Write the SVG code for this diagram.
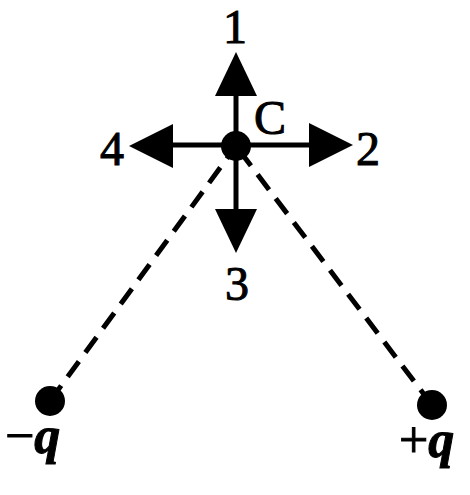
<svg xmlns="http://www.w3.org/2000/svg" width="470" height="495" viewBox="0 0 470 495">
<style>
.lbl{font-family:"Liberation Serif","Times New Roman",serif;font-size:48px;fill:#000;stroke:#000;stroke-width:1}
.q{font-size:52px}
.it{font-style:italic;font-weight:bold}
.shaft{stroke:#000;stroke-width:5;fill:none}
.dash{stroke:#000;stroke-width:5;fill:none;stroke-dasharray:19 11}
.head{fill:#000}
</style>
<rect width="470" height="495" fill="#fff"/>
<g id="connectors">
<line class="dash" x1="50" y1="401" x2="236" y2="146"/>
<line class="dash" x1="432" y1="405" x2="236" y2="146"/>
<line class="shaft" x1="236" y1="146" x2="236" y2="94"/>
<line class="shaft" x1="236" y1="146" x2="236" y2="211"/>
<line class="shaft" x1="236" y1="145" x2="311" y2="145"/>
<line class="shaft" x1="236" y1="145" x2="171" y2="145"/>
<polygon class="head" points="236,52 215,96 257,96"/>
<polygon class="head" points="236,253 215,209 257,209"/>
<polygon class="head" points="353,145 309,123 309,167"/>
<polygon class="head" points="129,146 173,124 173,168"/>
</g>
<g id="C">
<circle cx="236" cy="146" r="15" fill="#000"/>
<text class="lbl" x="254" y="134">C</text>
</g>
<g id="neg">
<circle cx="50" cy="401" r="15" fill="#000"/>
<text class="lbl q" x="5" y="453">−<tspan class="it">q</tspan></text>
</g>
<g id="pos">
<circle cx="432" cy="405" r="15" fill="#000"/>
<text class="lbl q" x="399" y="457">+<tspan class="it">q</tspan></text>
</g>
<g id="labels">
<text class="lbl" x="235" y="43" text-anchor="middle">1</text>
<text class="lbl" x="356" y="165">2</text>
<text class="lbl" x="237" y="300" text-anchor="middle">3</text>
<text class="lbl" x="100" y="165">4</text>
</g>
</svg>
